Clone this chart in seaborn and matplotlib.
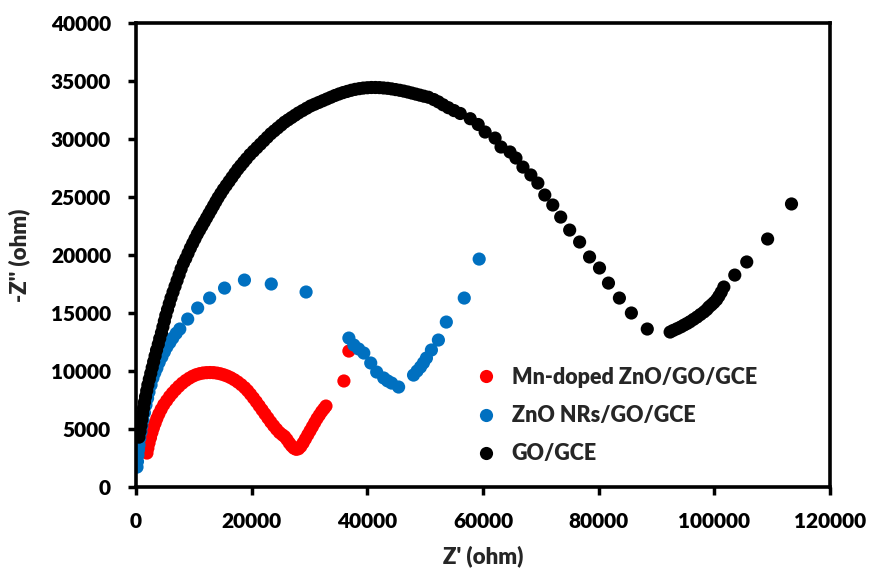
import matplotlib

matplotlib.use("Agg")
import matplotlib.pyplot as plt
import pandas as pd
import seaborn as sns

# Nyquist data (ohm)
mn_x = [1890, 2050, 2250, 2500, 2750, 3000, 3300, 3600, 3950, 4350, 4800,
        5300, 5800, 6300, 6850, 7400, 8000, 8600, 9200, 9800, 10400, 11000,
        11600, 12200, 12800, 13400, 14000, 14600, 15200, 15800, 16400, 17000,
        17600, 18200, 18800, 19300, 19800, 20300, 20800, 21300, 21800, 22300,
        22800, 23300, 23800, 24300, 24800, 25300, 25700, 26100, 26500, 26900,
        27300, 27700, 28100, 28500, 28900, 29300, 29700, 30100, 30500, 30900,
        31300, 31700, 32100, 32500, 32850, 35950, 36810]
mn_y = [2930, 3350, 3800, 4250, 4700, 5100, 5500, 5900, 6300, 6700, 7100,
        7450, 7800, 8100, 8400, 8680, 8950, 9180, 9380, 9550, 9680, 9770,
        9830, 9860, 9870, 9860, 9820, 9760, 9670, 9560, 9420, 9250,
        9050, 8820, 8560, 8300, 8000, 7680, 7350, 7000, 6650, 6300,
        5950, 5600, 5280, 4980, 4700, 4500, 4350, 4100, 3800, 3550,
        3350, 3250, 3300, 3500, 3800, 4150, 4500, 4850, 5200, 5550,
        5900, 6200, 6500, 6750, 6980, 9140, 11720]

zno_x = [170, 250, 340, 420, 520, 650, 860, 1000, 1200, 1450, 1720, 2000,
         2240, 2600, 2920, 3250, 3610, 4000, 4470, 4900, 5330, 5850, 6360,
         6950, 7570, 8940, 10660, 12730, 15310, 18750, 23390, 29410,
         36810, 37670, 38500, 39390, 40590, 41620, 42830, 43500, 44200, 45410,
         47990, 48600, 49190, 49700, 50220, 51080, 52290, 53660, 56760, 59340]
zno_y = [1720, 2200, 2760, 3200, 3620, 4200, 4740, 5250, 5780, 6400, 7070, 7650,
         8190, 8800, 9400, 9850, 10260, 10750, 11210, 11650, 12070, 12450, 12840,
         13250, 13620, 14480, 15430, 16290, 17150, 17840, 17500, 16810,
         12840, 12240, 11900, 11550, 10690, 9910, 9400, 9150, 8960, 8620,
         9650, 10000, 10340, 10700, 11120, 11810, 12670, 14220, 16290, 19650]

go_x = [500, 700, 860, 1000, 1150, 1300, 1450, 1650, 1850, 2050, 2300, 2550,
        2800, 3050, 3300, 3550, 3850, 4100, 4400, 4650, 4900, 5150, 5450, 5750,
        6050, 6400, 6750, 7100, 7450, 7800, 8200, 8600, 9000, 9400, 9800,
        10200, 10600, 11000, 11400, 11800, 12200, 12600, 13000, 13400, 13800,
        14200, 14650, 15100, 15600, 16100, 16600, 17100, 17600, 18100, 18600,
        19100, 19700, 20300, 20900, 21500, 22100, 22700, 23300, 23900, 24500,
        25100, 25700, 26300, 26900, 27500, 28100, 28800, 29500, 30200, 30900,
        31600, 32300, 33000, 33700, 34400, 35100, 35800, 36500, 37200, 37900,
        38600, 39300, 40000, 40700, 41400, 42100, 42800, 43500, 44200, 44900,
        45600, 46300, 47000, 47700, 48400, 49100, 49800, 50570,
        51500, 52290, 53100, 54010, 55000, 56070, 57790, 59170, 60370, 62090,
        63120, 64670, 65700, 66910, 68280, 69490, 70690, 72070, 73440, 74990,
        76710, 78430, 80150, 81700, 83590, 85660, 88410,
        92360, 92900, 93570, 94200, 94770, 95300, 95800, 96400, 97010, 97600,
        98210, 98700, 99070, 99500, 99930, 100400, 100790, 101200, 101650,
        103540, 105610, 109220, 113350]
go_y = [4300, 4800, 5300, 5800, 6300, 6800, 7300, 7800, 8300, 8800, 9300, 9800,
        10300, 10800, 11300, 11800, 12300, 12800, 13300, 13800, 14300, 14800,
        15300, 15800, 16300, 16800, 17300, 17800, 18300, 18800, 19300, 19700,
        20150, 20600, 21000, 21400, 21800, 22150, 22500, 22850, 23200, 23550,
        23900, 24250, 24600, 24950, 25300, 25650, 26000, 26350, 26700, 27050,
        27400, 27700, 28000, 28300, 28650, 28950, 29250, 29550, 29850, 30150,
        30450, 30700, 30950, 31200, 31450, 31650, 31850, 32050, 32250, 32450,
        32650, 32850, 33000, 33150, 33300, 33450, 33600, 33750, 33880, 34000,
        34100, 34200, 34280, 34340, 34390, 34420, 34440, 34440, 34430, 34400,
        34370, 34320, 34260, 34200, 34130, 34050, 33960, 33870, 33780, 33690,
        33600,
        33400, 33200, 32950, 32700, 32450, 32200, 31750, 31250, 30600, 30080,
        29310, 28880, 28360, 27580, 26900, 26200, 25170, 24310, 23270, 22150,
        21120, 19830, 18880, 17580, 16290, 15000, 13620,
        13360, 13500, 13650, 13800, 13960, 14100, 14250, 14450, 14650, 14870,
        15090, 15300, 15520, 15700, 15900, 16150, 16450, 16800, 17240,
        18270, 19400, 21380, 24400]

labels = ["Mn-doped ZnO/GO/GCE", "ZnO NRs/GO/GCE", "GO/GCE"]
colors = ["#FF0000", "#0070C0", "#000000"]

df = pd.concat([
    pd.DataFrame({"zr": mn_x, "zi": mn_y, "sample": labels[0]}),
    pd.DataFrame({"zr": zno_x, "zi": zno_y, "sample": labels[1]}),
    pd.DataFrame({"zr": go_x, "zi": go_y, "sample": labels[2]}),
], ignore_index=True)

sns.set_style("white")
plt.rcParams["font.family"] = ["Lato", "DejaVu Sans"]
plt.rcParams["font.weight"] = "heavy"

fig = plt.figure(figsize=(8.73, 5.75), dpi=100)
ax = fig.add_axes([0.1558, 0.153, 0.7949, 0.807])

sns.scatterplot(
    data=df, x="zr", y="zi", hue="sample", hue_order=labels,
    palette=dict(zip(labels, colors)), s=90, linewidth=0, ax=ax,
)

ax.set_xlim(0, 120000)
ax.set_ylim(0, 40000)
ax.set_xticks(range(0, 120001, 20000))
ax.set_yticks(range(0, 40001, 5000))
ax.tick_params(direction="out", length=6, width=2.5, labelsize=15, pad=12,
               bottom=True, left=True, colors="black")
for lab in ax.get_xticklabels() + ax.get_yticklabels():
    lab.set_fontweight("heavy")
for sp in ax.spines.values():
    sp.set_linewidth(2.6)
    sp.set_color("black")

ax.set_xlabel("Z' (ohm)", fontsize=16, fontweight="heavy", labelpad=10)
ax.set_ylabel("-Z'' (ohm)", fontsize=16, fontweight="heavy", labelpad=15)

ax.legend(
    loc="upper left", bbox_to_anchor=(0.522, 0.377), bbox_transform=fig.transFigure,
    frameon=False, prop={"size": 15.5, "weight": "heavy"}, handletextpad=0.2,
    labelspacing=0.8, borderaxespad=0, markerscale=1.0,
)

fig.savefig("out.png", dpi=100)
